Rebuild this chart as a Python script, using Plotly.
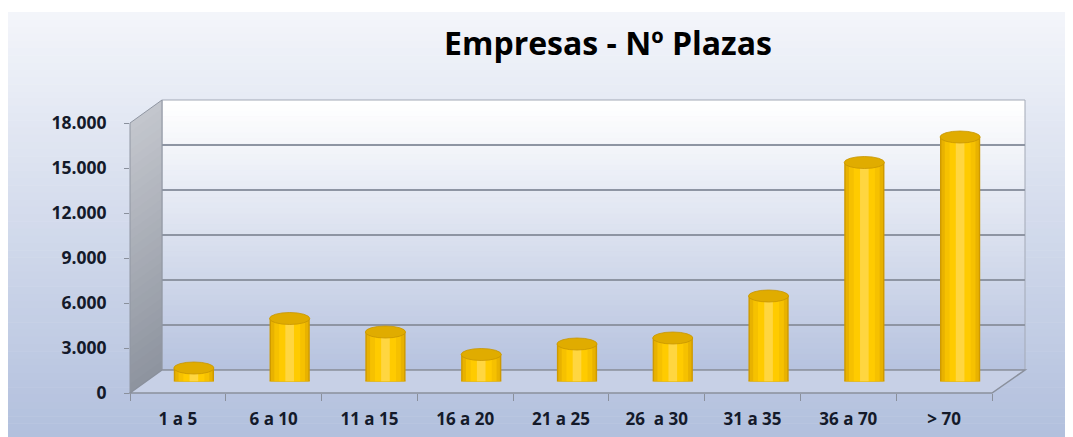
import plotly.graph_objects as go

# ---------------- data ----------------
categories = ["1 a 5", "6 a 10", "11 a 15", "16 a 20", "21 a 25",
              "26\u00a0 a 30", "31 a 35", "36 a 70", "> 70"]
values = [900, 4200, 3300, 1800, 2500, 2900, 5700, 14600, 16300]
y_ticks = [0, 3000, 6000, 9000, 12000, 15000, 18000]
title_text = "Empresas - Nº Plazas"

# ---------------- geometry helpers (styling only) ----------------
W, H = 1073, 437
OFF = 8  # page body margin offset


def px(x):
    return (x - OFF) / W


def py(y):
    return 1 - (y - OFF) / H


def mix(c1, c2, t):
    a = [int(c1[i:i + 2], 16) for i in (1, 3, 5)]
    b = [int(c2[i:i + 2], 16) for i in (1, 3, 5)]
    return "rgb(%d,%d,%d)" % tuple(round(a[k] + (b[k] - a[k]) * t) for k in range(3))


def poly(points):
    return "M " + " L ".join("%.5f %.5f" % (px(x), py(y)) for x, y in points) + " Z"


shapes = []

# figure background gradient
N = 60
top, bot = 12, 445
for k in range(N):
    y0 = top + (bot - top) * k / N
    y1 = top + (bot - top) * (k + 1) / N + 0.5
    shapes.append(dict(type="rect", xref="paper", yref="paper", layer="below",
                       x0=px(6), x1=1, y0=py(y1), y1=py(y0), line=dict(width=0),
                       fillcolor=mix("#F3F5FA", "#B1BFDD", k / (N - 1))))

# back wall gradient
BW_L, BW_R, BW_T, BW_B = 162, 1025, 100, 370
N = 50
for k in range(N):
    y0 = BW_T + (BW_B - BW_T) * k / N
    y1 = BW_T + (BW_B - BW_T) * (k + 1) / N + 0.5
    shapes.append(dict(type="rect", xref="paper", yref="paper", layer="below",
                       x0=px(BW_L), x1=px(BW_R), y0=py(y1), y1=py(y0), line=dict(width=0),
                       fillcolor=mix("#FFFFFF", "#B7C3DF", k / (N - 1))))
shapes.append(dict(type="rect", xref="paper", yref="paper", layer="below",
                   x0=px(BW_L), x1=px(BW_R), y0=py(BW_B), y1=py(BW_T),
                   line=dict(width=1, color="#A3A9B6"), fillcolor="rgba(0,0,0,0)"))

# left side wall gradient
N = 30
for k in range(N):
    t0, t1 = k / N, (k + 1) / N + 0.004
    lt0 = 123 + 270 * t0
    lt1 = 123 + 270 * t1
    rt0 = 100 + 270 * t0
    rt1 = 100 + 270 * t1
    shapes.append(dict(type="path", xref="paper", yref="paper", layer="below",
                       path=poly([(130, lt0), (162, rt0), (162, rt1), (130, lt1)]),
                       line=dict(width=0),
                       fillcolor=mix("#C3C6CD", "#8E949F", k / (N - 1))))
shapes.append(dict(type="path", xref="paper", yref="paper", layer="below",
                   path=poly([(130, 123), (162, 100), (162, 370), (130, 393)]),
                   line=dict(width=1, color="#9096A2"), fillcolor="rgba(0,0,0,0)"))

# floor
shapes.append(dict(type="path", xref="paper", yref="paper", layer="below",
                   path=poly([(130, 393), (162, 370), (1025, 370), (992, 393)]),
                   line=dict(width=1.5, color="#8A909C"), fillcolor="#C7D0E6"))

# ---------------- traces ----------------
fig = go.Figure()

# invisible trace to activate the back-wall grid subplot
fig.add_trace(go.Scatter(x=[0, 1], y=[0, 0], xaxis="x2", yaxis="y2", mode="markers",
                         marker=dict(opacity=0), hoverinfo="skip", showlegend=False))

# invisible trace for the front axis (category labels + value labels)
fig.add_trace(go.Scatter(x=categories, y=[0] * len(categories), xaxis="x", yaxis="y",
                         mode="markers", marker=dict(opacity=0), hoverinfo="skip",
                         showlegend=False))

# cylinders: layered bars of decreasing width to fake shading
layers = [(0.42, "#CF9A00"), (0.39, "#E8B200"), (0.32, "#F6C100"),
          (0.22, "#FFCB00"), (0.09, "#FFD640")]
for w, c in layers:
    fig.add_trace(go.Bar(x=categories, y=values, xaxis="x3", yaxis="y3",
                         width=w, marker=dict(color=c, line=dict(width=0)),
                         showlegend=False, hoverinfo="x+y"))

# elliptical caps (top) and bases (bottom) derived from the values
d = 400
half = 0.21
for i, v in enumerate(values):
    shapes.append(dict(type="circle", xref="x3", yref="y3", layer="between",
                       x0=i - half, x1=i + half, y0=-d, y1=d,
                       fillcolor="#E0A900", line=dict(width=0)))
    shapes.append(dict(type="circle", xref="x3", yref="y3", layer="above",
                       x0=i - half, x1=i + half, y0=v - d, y1=v + d,
                       fillcolor="#E0AC00", line=dict(width=0.8, color="#C89600")))

font_fam = "Open Sans"
tick_col = "#141A2A"

fig.update_layout(
    width=W, height=H,
    margin=dict(l=0, r=0, t=0, b=0, autoexpand=False),
    paper_bgcolor="#FFFFFF",
    plot_bgcolor="rgba(0,0,0,0)",
    separators=",.",
    barmode="overlay",
    showlegend=False,
    shapes=shapes,
    title=dict(text=title_text, x=px(608), xanchor="center", y=py(44), yanchor="middle",
               font=dict(family=font_fam, size=32, color="#000000", weight="bold")),
    xaxis=dict(domain=[px(130), px(992)], anchor="y", type="category",
               range=[-0.5, len(categories) - 0.5], tickson="boundaries",
               ticks="outside", ticklen=7, tickcolor="#8A909C", tickwidth=1.2,
               showgrid=False, showline=False, zeroline=False, ticklabelstandoff=14,
               tickfont=dict(family=font_fam, size=17, color=tick_col, weight="bold"),
               fixedrange=True),
    yaxis=dict(domain=[py(393), py(123)], anchor="x", range=[0, 18000],
               tickvals=y_ticks, tickformat=",d", ticks="outside", ticklen=5,
               tickcolor="#8A909C", showgrid=False, zeroline=False, showline=False,
               ticklabelstandoff=14,
               tickfont=dict(family=font_fam, size=17.5, color=tick_col, weight="bold"),
               fixedrange=True),
    xaxis2=dict(domain=[px(BW_L), px(BW_R)], anchor="y2", range=[0, 1], visible=False),
    yaxis2=dict(domain=[py(BW_B), py(BW_T)], anchor="x2", range=[0, 18000],
                dtick=3000, showgrid=True, gridcolor="#8E95A3", gridwidth=1.5,
                showticklabels=False, ticks="", zeroline=False, showline=False),
    xaxis3=dict(domain=[px(146), px(1008)], anchor="y3", type="category",
                range=[-0.5, len(categories) - 0.5], visible=False),
    yaxis3=dict(domain=[py(381.5), py(111.5)], anchor="x3", range=[0, 18000],
                visible=False),
)

fig.write_html("out.html")
